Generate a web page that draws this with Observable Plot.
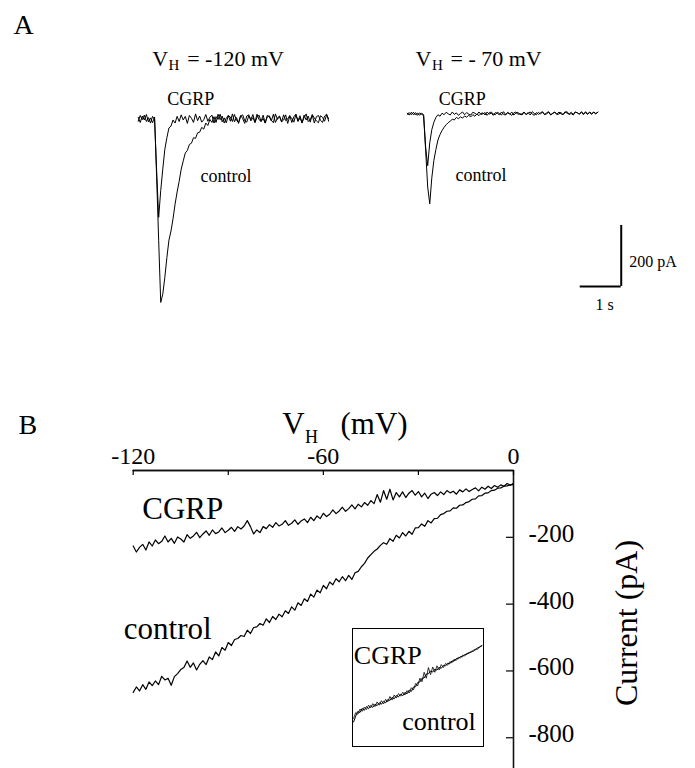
<!DOCTYPE html>
<html>
<head>
<meta charset="utf-8">
<script src="https://cdn.jsdelivr.net/npm/d3@7"></script>
<script src="https://cdn.jsdelivr.net/npm/@observablehq/plot@0.6"></script>
<style>
  html, body { margin: 0; padding: 0; background: #fff; }
  #fig { position: relative; width: 695px; height: 768px; overflow: hidden; background: #fff; }
</style>
</head>
<body>
<div id="fig"></div>
<script>
// ---------------- DATA ----------------
// Panel A: current traces (pA), sampled every sampleInterval seconds
const sampleInterval = 0.05; // s

const controlAt120 = [5,-12,9,-4,14,-10,3,-13,6,
  -190,-400,-602,-575,-520,-455,-398,-368,-328,-280,-240,-205,-165,-138,-112,-104,-84,-80,-62,-64,-46,-44,-28,-34,-14,-22,-2,-12,
  7,-12,15,-3,9,-14,2,11,-8,16,-10,4,-15,8,13,-6,-11,10,-2,14,-13,5,12,-9,1,-14,11,6,-7,15,-12,3,9,-10,-4,13,-15,8,2,-11,14,-6,10,-13,4,16,-9,-2,12,-14,7,11,-5,-12,9,15,-8];

const cgrpAt120 = [-8,11,-3,12,-9,4,-14,8,-2,
  -170,-323,-235,-165,-100,-62,-30,-24,-4,-14,8,
  -9,13,-4,8,-15,11,2,-12,16,-6,9,-11,-3,14,-8,5,12,-14,7,-2,15,-10,3,-13,10,6,-9,14,-5,-12,11,1,-15,9,13,-7,4,-11,15,-3,-8,12,-14,6,10,-5,-13,16,-2,8,-10,13,-6,-1,11,-12,7,15,-9,3,-14,12,-4,9,-11,14,2,-7,-13,10,5,-8,13,0];

const controlAt70 = [2,-4,5,-3,4,-5,3,-2,
  -5,-120,-240,-295,-210,-153,-117,-86,-68,-55,-44,-36,-29,-24,-18,-20,-12,-16,-10,-14,-7,-11,-5,-10,-3,-8,-1,-6,1,
  3,-4,6,-1,2,-5,4,1,-3,6,-2,-4,5,0,-5,3,6,-2,1,-4,5,-3,2,6,-1,-5,4,-2,3,7,-3,0,5,-4,2,6,-2,-1,5,-3,4,7,-2,1,-4,6,3,-1,5,-3,7,0,4,-2,6,1,5];

const cgrpAt70 = [-2,4,-3,5,-4,3,-5,2,
  -3,-110,-170,-95,-52,-28,-12,-3,-8,2,
  -3,5,0,-4,6,-2,3,-5,1,6,-3,4,-1,-4,5,2,-3,6,-2,0,4,-5,3,6,-1,-3,5,1,-4,7,-2,3,-1,6,-4,2,5,-3,0,6,-2,4,-4,7,1,-3,5,-1,6,-2,3,7,-3,1,5,-2,6,0,-3,7,2,-1,5,-2,6,3,-1,7,0,4,-2,6,1,5,-1,6];

// Scale bar (1 s, 200 pA)
const scaleBar = [{t: 4.22, I: -566, dt: 1, dI: 200}];

// Panel B: ramp I-V, [holding potential mV, current pA]
const cgrpIV = [[-120,-226],[-119,-244],[-118,-230],[-117,-221],[-116,-238],[-115,-214],[-114,-226],[-113,-208],[-112,-219],[-111,-212],[-110,-196],[-109,-214],[-108,-203],[-107,-218],[-106,-199],[-105,-205],[-104,-214],[-103,-192],[-102,-203],[-101,-196],[-100,-185],[-99,-201],[-98,-190],[-97,-181],[-96,-194],[-95,-178],[-94,-189],[-93,-184],[-92,-172],[-91,-186],[-90,-179],[-89,-170],[-88,-182],[-87,-168],[-86,-175],[-85,-166],[-84,-150],[-83,-168],[-82,-190],[-81,-178],[-80,-186],[-79,-168],[-78,-174],[-77,-162],[-76,-170],[-75,-156],[-74,-166],[-73,-161],[-72,-150],[-71,-164],[-70,-158],[-69,-148],[-68,-161],[-67,-151],[-66,-145],[-65,-156],[-64,-140],[-63,-150],[-62,-136],[-61,-144],[-60,-128],[-59,-138],[-58,-131],[-57,-118],[-56,-129],[-55,-121],[-54,-110],[-53,-122],[-52,-114],[-51,-103],[-50,-115],[-49,-101],[-48,-109],[-47,-96],[-46,-104],[-45,-90],[-44,-99],[-43,-72],[-42,-95],[-41,-60],[-40,-86],[-39,-56],[-38,-88],[-37,-66],[-36,-79],[-35,-64],[-34,-81],[-33,-68],[-32,-60],[-31,-74],[-30,-63],[-29,-79],[-28,-68],[-27,-84],[-26,-71],[-25,-66],[-24,-75],[-23,-64],[-22,-72],[-21,-60],[-20,-67],[-19,-62],[-18,-71],[-17,-58],[-16,-64],[-15,-55],[-14,-63],[-13,-57],[-12,-52],[-11,-61],[-10,-50],[-9,-56],[-8,-47],[-7,-54],[-6,-45],[-5,-50],[-4,-43],[-3,-47],[-2,-39],[-1,-44],[0,-38]];

const controlIV = [[-120,-664],[-119,-648],[-118,-660],[-117,-641],[-116,-655],[-115,-633],[-114,-644],[-113,-630],[-112,-641],[-111,-616],[-110,-627],[-109,-622],[-108,-643],[-107,-617],[-106,-608],[-105,-596],[-104,-590],[-103,-570],[-102,-589],[-101,-576],[-100,-597],[-99,-580],[-98,-569],[-97,-581],[-96,-558],[-95,-566],[-94,-543],[-93,-555],[-92,-530],[-91,-538],[-90,-515],[-89,-524],[-88,-506],[-87,-503],[-86,-494],[-85,-497],[-84,-478],[-83,-488],[-82,-470],[-81,-468],[-80,-458],[-79,-463],[-78,-444],[-77,-455],[-76,-437],[-75,-446],[-74,-430],[-73,-438],[-72,-420],[-71,-428],[-70,-408],[-69,-418],[-68,-396],[-67,-404],[-66,-384],[-65,-392],[-64,-370],[-63,-379],[-62,-358],[-61,-366],[-60,-344],[-59,-354],[-58,-334],[-57,-342],[-56,-324],[-55,-333],[-54,-318],[-53,-330],[-52,-314],[-51,-326],[-50,-306],[-49,-302],[-48,-288],[-47,-278],[-46,-262],[-45,-252],[-44,-242],[-43,-235],[-42,-224],[-41,-216],[-40,-221],[-39,-204],[-38,-212],[-37,-194],[-36,-202],[-35,-186],[-34,-196],[-33,-182],[-32,-191],[-31,-172],[-30,-171],[-29,-160],[-28,-167],[-27,-150],[-26,-157],[-25,-144],[-24,-143],[-23,-132],[-22,-129],[-21,-122],[-20,-121],[-19,-112],[-18,-113],[-17,-104],[-16,-103],[-15,-96],[-14,-93],[-13,-86],[-12,-85],[-11,-76],[-10,-75],[-9,-68],[-8,-67],[-7,-60],[-6,-59],[-5,-53],[-4,-52],[-3,-47],[-2,-46],[-1,-43],[0,-42]];

// Inset: CGRP trace scaled onto control (arbitrary units)
const insetControl = [[-120,-690],[-118,-640],[-116,-600],[-114,-610],[-112,-575],[-110,-592],[-108,-560],[-106,-578],[-104,-550],[-102,-566],[-100,-540],[-98,-552],[-96,-528],[-94,-540],[-92,-515],[-90,-528],[-88,-500],[-86,-508],[-84,-482],[-82,-494],[-80,-466],[-78,-478],[-76,-455],[-74,-468],[-72,-440],[-70,-452],[-68,-420],[-66,-432],[-64,-395],[-62,-392],[-60,-356],[-58,-352],[-56,-320],[-54,-318],[-52,-285],[-50,-282],[-48,-260],[-46,-268],[-44,-244],[-42,-252],[-40,-228],[-38,-236],[-36,-212],[-34,-216],[-32,-194],[-30,-198],[-28,-174],[-26,-176],[-24,-154],[-22,-156],[-20,-136],[-18,-138],[-16,-120],[-14,-118],[-12,-102],[-10,-100],[-8,-84],[-6,-80],[-4,-64],[-2,-58],[0,-44]];
const insetCgrp = [[-120,-660],[-118,-610],[-116,-625],[-114,-580],[-112,-600],[-110,-565],[-108,-585],[-106,-548],[-104,-570],[-102,-535],[-100,-560],[-98,-520],[-96,-548],[-94,-510],[-92,-538],[-90,-498],[-88,-520],[-86,-475],[-84,-505],[-82,-462],[-80,-488],[-78,-450],[-76,-472],[-74,-438],[-72,-462],[-70,-425],[-68,-445],[-66,-400],[-64,-420],[-62,-365],[-60,-385],[-58,-320],[-56,-350],[-54,-270],[-52,-320],[-50,-230],[-48,-290],[-46,-225],[-44,-270],[-42,-215],[-40,-250],[-38,-205],[-36,-230],[-34,-195],[-32,-210],[-30,-180],[-28,-190],[-26,-160],[-24,-170],[-22,-142],[-20,-150],[-18,-125],[-16,-132],[-14,-108],[-12,-112],[-10,-92],[-8,-95],[-6,-72],[-4,-76],[-2,-52],[0,-46]];

// Axes of panel B
const vDomain = [-120, 0];
const iDomain = [-892, 0];
const xTicks = [-120, -90, -60, -30, 0];
const xTickLabels = [-120, -60, 0];
const yTicks = [-200, -400, -600, -800];

// ---------------- LAYOUT ----------------
const FONT = "'Liberation Serif', 'Times New Roman', serif";
const fig = document.getElementById("fig");
const boxA1 = {left: 0, top: 0, width: 350, height: 330, ml: 137.7, mr: 21, mt: 100, mb: 4.3};
const boxA2 = {left: 350, top: 0, width: 345, height: 330, ml: 56.7, mr: 58.7, mt: 95, mb: 9.3};
const boxB = {left: 0, top: 370, width: 695, height: 398, ml: 132.7, mr: 182, mt: 100, mb: 0};
const boxIn = {left: 352, top: 628, width: 131, height: 118, ml: 0, mr: 0, mt: 0, mb: 0};

function mount(svg, box) {
  svg.style.position = "absolute";
  svg.style.left = box.left + "px";
  svg.style.top = box.top + "px";
  fig.appendChild(svg);
}
function labeler(box) {
  return (text, x, y, size, extra = {}) => Plot.text([text], {
    text: d => d, frameAnchor: "top-left",
    dx: x - (box.left + box.ml), dy: y - (box.top + box.mt),
    textAnchor: "start", lineAnchor: "bottom", fontSize: size, fill: "black", ...extra
  });
}
function frameOpts(box) {
  return {width: box.width, height: box.height, marginLeft: box.ml, marginRight: box.mr,
    marginTop: box.mt, marginBottom: box.mb,
    style: {background: "transparent", fontFamily: FONT, overflow: "visible", color: "black"}};
}
const series = vals => vals.map((v, i) => [i * sampleInterval, v]);
const lineOpts = {x: d => d[0], y: d => d[1], stroke: "black", strokeWidth: 1};

// ---------- Panel A, left (-120 mV) ----------
{
  const L = labeler(boxA1);
  mount(Plot.plot({
    ...frameOpts(boxA1),
    x: {domain: [0, 4.67], axis: null},
    y: {domain: [-680, 60], axis: null},
    marks: [
      Plot.line(series(controlAt120), lineOpts),
      Plot.line(series(cgrpAt120), lineOpts),
      L("A", 13, 33, 28),
      L("V", 151.7, 65, 22),
      L("H", 168, 69, 15),
      L("= -120 mV", 186.7, 65, 22),
      L("CGRP", 166.7, 104.3, 18),
      L("control", 200, 181.7, 18)
    ]
  }), boxA1);
}

// ---------- Panel A, right (-70 mV) + scale bar ----------
{
  const L = labeler(boxA2);
  mount(Plot.plot({
    ...frameOpts(boxA2),
    x: {domain: [0, 5.6], axis: null},
    y: {domain: [-680, 60], axis: null},
    marks: [
      Plot.line(series(controlAt70), lineOpts),
      Plot.line(series(cgrpAt70), lineOpts),
      Plot.ruleY(scaleBar, {y: d => d.I, x1: d => d.t, x2: d => d.t + d.dt, stroke: "black", strokeWidth: 2}),
      Plot.ruleX(scaleBar, {x: d => d.t + d.dt, y1: d => d.I, y2: d => d.I + d.dI, stroke: "black", strokeWidth: 2}),
      Plot.text(scaleBar, {x: d => d.t + d.dt, y: d => d.I + d.dI / 2, text: d => `${d.dI} pA`, textAnchor: "start", dx: 8, dy: 6, fontSize: 16, fill: "black"}),
      Plot.text(scaleBar, {x: d => d.t + d.dt / 2, y: d => d.I, text: d => `${d.dt} s`, lineAnchor: "bottom", dx: 4, dy: 24, fontSize: 16, fill: "black"}),
      L("V", 415, 65, 22),
      L("H", 431.6, 69, 15),
      L("= - 70 mV", 450, 65, 22),
      L("CGRP", 438.3, 104.3, 18),
      L("control", 455, 180, 18)
    ]
  }), boxA2);
}

// ---------- Panel B: traces and labels ----------
{
  const L = labeler(boxB);
  mount(Plot.plot({
    ...frameOpts(boxB),
    x: {domain: vDomain, axis: null},
    y: {domain: iDomain, axis: null},
    marks: [
      Plot.line(cgrpIV, {x: d => d[0], y: d => d[1], stroke: "black", strokeWidth: 1.2}),
      Plot.line(controlIV, {x: d => d[0], y: d => d[1], stroke: "black", strokeWidth: 1.2}),
      L("B", 18, 433.3, 28),
      L("V", 281.7, 433.3, 31),
      L("H", 304.5, 442, 18),
      L("(mV)", 340, 433.3, 31),
      L("CGRP", 141.7, 518.3, 31),
      L("control", 123.3, 638.3, 31),
      Plot.text(["Current (pA)"], {text: d => d, frameAnchor: "right", rotate: -90, dx: 123, dy: 3.5,
        lineAnchor: "bottom", textAnchor: "middle", fontSize: 32, fill: "black"})
    ]
  }), boxB);
}

// ---------- Inset ----------
{
  const L = labeler(boxIn);
  mount(Plot.plot({
    ...frameOpts(boxIn),
    x: {domain: [-121, 1.5], axis: null},
    y: {domain: [-897, 100], axis: null},
    marks: [
      Plot.frame({stroke: "black", strokeWidth: 1}),
      Plot.line(insetControl, {x: d => d[0], y: d => d[1], stroke: "black", strokeWidth: 1}),
      Plot.line(insetCgrp, {x: d => d[0], y: d => d[1], stroke: "black", strokeWidth: 0.8}),
      L("CGRP", 353.3, 663.3, 26),
      L("control", 401.7, 729.3, 26)
    ]
  }), boxIn);
}

// ---------- Panel B: axes (top and right), drawn last on top ----------
{
  const frameH = boxB.height - boxB.mt - boxB.mb;
  const frameW = boxB.width - boxB.ml - boxB.mr;
  const topAxis = vDomain.map(v => [v, 0]);
  const rightAxis = iDomain.map(i => [0, i]);
  mount(Plot.plot({
    ...frameOpts(boxB),
    x: {domain: vDomain},
    y: {domain: iDomain},
    marks: [
      Plot.axisX({anchor: "top", ticks: xTickLabels, tickFormat: d => `${d}`, tickSize: 0, tickPadding: 7, fontSize: 24, label: null, fill: "black"}),
      Plot.axisY({anchor: "right", ticks: yTicks, tickFormat: d => `${d}`, tickSize: 0, tickPadding: 15, fontSize: 25, dy: -3.5, label: null, fill: "black"}),
      Plot.ruleY([0], {stroke: "black", strokeWidth: 1.3}),
      Plot.ruleX([0], {stroke: "black", strokeWidth: 1.3}),
      Plot.line(topAxis, {x: d => d[0], y: d => d[1], stroke: "#111", strokeWidth: 1.3}),
      Plot.line(rightAxis, {x: d => d[0], y: d => d[1], stroke: "#111", strokeWidth: 1.3}),
      Plot.tickX(xTicks, {x: d => d, insetBottom: frameH - 5, stroke: "black", strokeWidth: 1.2}),
      Plot.tickY(yTicks, {y: d => d, insetLeft: frameW - 7, stroke: "black", strokeWidth: 1.2})
    ]
  }), boxB);
}
</script>
</body>
</html>
